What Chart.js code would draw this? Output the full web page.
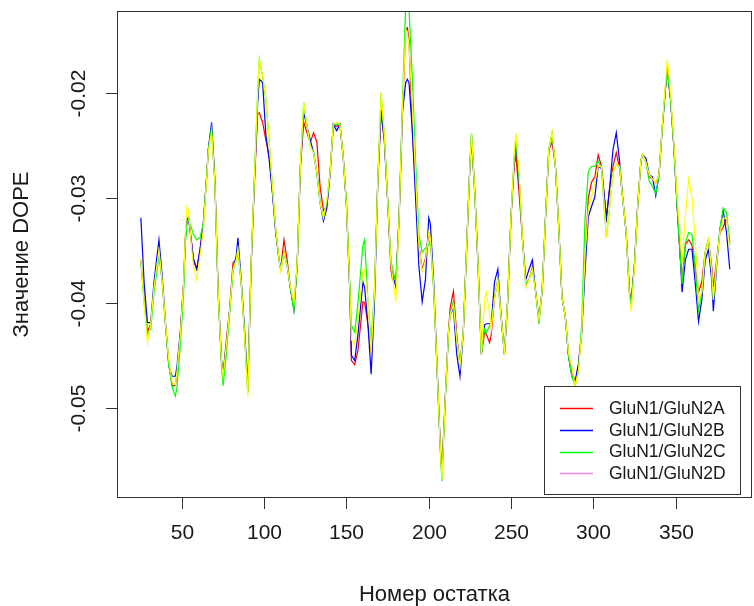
<!DOCTYPE html>
<html>
<head>
<meta charset="utf-8">
<script src="https://cdn.jsdelivr.net/npm/chart.js@4.4.1/dist/chart.umd.min.js"></script>
<style>
  html, body { margin: 0; padding: 0; background: #fff; }
  #wrap { width: 754px; height: 606px; position: relative; }
</style>
</head>
<body>
<div id="wrap"><canvas id="dopeChart" width="754" height="606"></canvas></div>
<script>
// residue numbers (x)
const residues = [25,27,29,31,33,36,38,40,42,44,46,47,49,51,52,53,54,56,57,59,61,63,65,66,68,70,72,74,75,77,79,81,83,84,86,88,90,92,94,96,97,99,101,103,105,107,109,110,112,114,116,118,120,122,124,126,128,130,132,134,136,138,140,142,144,146,148,150,152,153,155,157,160,161,163,165,167,169,171,173,175,177,178,180,182,184,186,187,188,190,192,194,196,198,200,201,203,205,207,208,210,212,213,215,217,219,221,223,225,226,228,230,232,234,235,237,238,240,242,244,246,248,250,252,253,255,257,259,261,263,265,267,269,271,273,275,277,279,281,283,285,287,289,291,293,295,297,299,301,303,305,308,310,312,314,316,318,320,322,323,325,327,329,330,332,334,336,338,340,342,344,345,347,349,351,353,354,356,358,360,362,364,366,368,370,372,373,375,377,379,381,383];

const dopeA = [-0.0360,-0.0395,-0.0428,-0.0420,-0.0385,-0.0352,-0.0380,-0.0420,-0.0458,-0.0479,-0.0479,-0.0465,-0.0428,-0.0381,-0.0340,-0.0321,-0.0319,-0.0345,-0.0360,-0.0368,-0.0349,-0.0324,-0.0280,-0.0254,-0.0233,-0.0285,-0.0390,-0.0455,-0.0468,-0.0435,-0.0406,-0.0362,-0.0359,-0.0349,-0.0381,-0.0428,-0.0485,-0.0365,-0.0286,-0.0220,-0.0219,-0.0228,-0.0245,-0.0260,-0.0295,-0.0333,-0.0359,-0.0368,-0.0340,-0.0360,-0.0387,-0.0406,-0.0365,-0.0270,-0.0228,-0.0238,-0.0247,-0.0238,-0.0247,-0.0290,-0.0312,-0.0308,-0.0276,-0.0230,-0.0232,-0.0230,-0.0261,-0.0308,-0.0387,-0.0455,-0.0459,-0.0445,-0.0399,-0.0400,-0.0420,-0.0448,-0.0390,-0.0286,-0.0219,-0.0245,-0.0302,-0.0368,-0.0378,-0.0380,-0.0318,-0.0219,-0.0140,-0.0138,-0.0150,-0.0235,-0.0290,-0.0345,-0.0368,-0.0358,-0.0333,-0.0338,-0.0385,-0.0460,-0.0535,-0.0560,-0.0492,-0.0428,-0.0405,-0.0389,-0.0430,-0.0459,-0.0428,-0.0349,-0.0270,-0.0245,-0.0295,-0.0365,-0.0449,-0.0428,-0.0430,-0.0438,-0.0430,-0.0395,-0.0378,-0.0413,-0.0449,-0.0397,-0.0318,-0.0268,-0.0260,-0.0297,-0.0340,-0.0383,-0.0378,-0.0366,-0.0390,-0.0416,-0.0387,-0.0318,-0.0254,-0.0247,-0.0270,-0.0327,-0.0395,-0.0413,-0.0451,-0.0465,-0.0475,-0.0460,-0.0428,-0.0360,-0.0300,-0.0285,-0.0280,-0.0259,-0.0270,-0.0319,-0.0290,-0.0270,-0.0257,-0.0272,-0.0302,-0.0333,-0.0390,-0.0400,-0.0365,-0.0308,-0.0264,-0.0259,-0.0266,-0.0280,-0.0282,-0.0286,-0.0278,-0.0232,-0.0194,-0.0178,-0.0206,-0.0251,-0.0308,-0.0359,-0.0380,-0.0345,-0.0340,-0.0345,-0.0366,-0.0390,-0.0380,-0.0352,-0.0340,-0.0365,-0.0385,-0.0359,-0.0333,-0.0328,-0.0319,-0.0342];

const dopeB = [-0.0319,-0.0381,-0.0419,-0.0419,-0.0380,-0.0340,-0.0375,-0.0420,-0.0460,-0.0470,-0.0470,-0.0460,-0.0428,-0.0381,-0.0340,-0.0321,-0.0319,-0.0345,-0.0358,-0.0368,-0.0349,-0.0324,-0.0280,-0.0254,-0.0228,-0.0283,-0.0390,-0.0455,-0.0468,-0.0440,-0.0406,-0.0368,-0.0355,-0.0338,-0.0378,-0.0425,-0.0480,-0.0365,-0.0286,-0.0210,-0.0187,-0.0190,-0.0240,-0.0264,-0.0295,-0.0333,-0.0359,-0.0368,-0.0352,-0.0365,-0.0387,-0.0406,-0.0365,-0.0270,-0.0219,-0.0232,-0.0245,-0.0257,-0.0276,-0.0305,-0.0322,-0.0310,-0.0278,-0.0230,-0.0236,-0.0230,-0.0261,-0.0308,-0.0387,-0.0450,-0.0455,-0.0430,-0.0380,-0.0385,-0.0420,-0.0468,-0.0400,-0.0286,-0.0216,-0.0245,-0.0302,-0.0362,-0.0372,-0.0385,-0.0318,-0.0219,-0.0190,-0.0187,-0.0190,-0.0235,-0.0300,-0.0365,-0.0399,-0.0378,-0.0319,-0.0325,-0.0380,-0.0460,-0.0537,-0.0565,-0.0492,-0.0428,-0.0412,-0.0405,-0.0449,-0.0470,-0.0428,-0.0349,-0.0270,-0.0240,-0.0295,-0.0365,-0.0449,-0.0421,-0.0420,-0.0420,-0.0420,-0.0380,-0.0368,-0.0413,-0.0449,-0.0397,-0.0318,-0.0264,-0.0248,-0.0285,-0.0340,-0.0378,-0.0368,-0.0359,-0.0390,-0.0416,-0.0387,-0.0318,-0.0254,-0.0240,-0.0270,-0.0327,-0.0395,-0.0413,-0.0451,-0.0470,-0.0475,-0.0458,-0.0428,-0.0370,-0.0318,-0.0308,-0.0299,-0.0270,-0.0272,-0.0319,-0.0290,-0.0254,-0.0238,-0.0265,-0.0302,-0.0333,-0.0390,-0.0400,-0.0365,-0.0308,-0.0264,-0.0259,-0.0262,-0.0278,-0.0280,-0.0298,-0.0278,-0.0232,-0.0194,-0.0178,-0.0206,-0.0251,-0.0308,-0.0359,-0.0390,-0.0359,-0.0349,-0.0349,-0.0381,-0.0418,-0.0397,-0.0360,-0.0349,-0.0378,-0.0408,-0.0365,-0.0330,-0.0312,-0.0333,-0.0368];

const dopeC = [-0.0362,-0.0400,-0.0430,-0.0425,-0.0390,-0.0355,-0.0380,-0.0422,-0.0460,-0.0480,-0.0489,-0.0480,-0.0440,-0.0390,-0.0345,-0.0325,-0.0320,-0.0330,-0.0335,-0.0340,-0.0338,-0.0324,-0.0280,-0.0254,-0.0233,-0.0285,-0.0392,-0.0460,-0.0479,-0.0448,-0.0410,-0.0370,-0.0359,-0.0349,-0.0381,-0.0428,-0.0486,-0.0365,-0.0282,-0.0200,-0.0168,-0.0184,-0.0206,-0.0247,-0.0290,-0.0330,-0.0359,-0.0368,-0.0352,-0.0365,-0.0387,-0.0408,-0.0365,-0.0268,-0.0209,-0.0232,-0.0251,-0.0257,-0.0276,-0.0305,-0.0319,-0.0305,-0.0276,-0.0230,-0.0230,-0.0230,-0.0261,-0.0305,-0.0380,-0.0422,-0.0428,-0.0400,-0.0345,-0.0340,-0.0397,-0.0438,-0.0390,-0.0286,-0.0200,-0.0240,-0.0300,-0.0360,-0.0368,-0.0381,-0.0318,-0.0210,-0.0115,-0.0110,-0.0120,-0.0185,-0.0265,-0.0335,-0.0352,-0.0348,-0.0345,-0.0340,-0.0388,-0.0460,-0.0540,-0.0570,-0.0495,-0.0430,-0.0412,-0.0398,-0.0435,-0.0459,-0.0428,-0.0349,-0.0270,-0.0238,-0.0295,-0.0365,-0.0449,-0.0425,-0.0428,-0.0422,-0.0420,-0.0395,-0.0378,-0.0413,-0.0449,-0.0397,-0.0318,-0.0260,-0.0242,-0.0283,-0.0340,-0.0382,-0.0378,-0.0368,-0.0390,-0.0420,-0.0387,-0.0318,-0.0254,-0.0238,-0.0270,-0.0327,-0.0395,-0.0413,-0.0451,-0.0470,-0.0479,-0.0465,-0.0420,-0.0320,-0.0275,-0.0270,-0.0270,-0.0265,-0.0272,-0.0338,-0.0308,-0.0276,-0.0268,-0.0270,-0.0302,-0.0333,-0.0390,-0.0402,-0.0365,-0.0308,-0.0264,-0.0259,-0.0266,-0.0284,-0.0289,-0.0296,-0.0278,-0.0232,-0.0194,-0.0178,-0.0206,-0.0251,-0.0308,-0.0359,-0.0382,-0.0343,-0.0333,-0.0335,-0.0366,-0.0408,-0.0390,-0.0352,-0.0340,-0.0370,-0.0397,-0.0362,-0.0330,-0.0310,-0.0314,-0.0345];

const dopeD = [-0.0358,-0.0400,-0.0438,-0.0420,-0.0385,-0.0350,-0.0380,-0.0420,-0.0455,-0.0475,-0.0478,-0.0465,-0.0430,-0.0380,-0.0335,-0.0309,-0.0313,-0.0350,-0.0365,-0.0378,-0.0355,-0.0330,-0.0282,-0.0256,-0.0238,-0.0285,-0.0390,-0.0455,-0.0470,-0.0440,-0.0406,-0.0368,-0.0359,-0.0349,-0.0381,-0.0430,-0.0490,-0.0362,-0.0282,-0.0200,-0.0168,-0.0184,-0.0206,-0.0247,-0.0290,-0.0330,-0.0359,-0.0370,-0.0352,-0.0365,-0.0385,-0.0400,-0.0362,-0.0268,-0.0209,-0.0232,-0.0251,-0.0257,-0.0276,-0.0305,-0.0319,-0.0302,-0.0276,-0.0230,-0.0228,-0.0230,-0.0261,-0.0308,-0.0385,-0.0435,-0.0440,-0.0415,-0.0370,-0.0368,-0.0397,-0.0448,-0.0390,-0.0286,-0.0200,-0.0240,-0.0302,-0.0362,-0.0375,-0.0399,-0.0318,-0.0215,-0.0140,-0.0142,-0.0155,-0.0210,-0.0280,-0.0345,-0.0370,-0.0360,-0.0333,-0.0338,-0.0385,-0.0460,-0.0537,-0.0568,-0.0492,-0.0428,-0.0412,-0.0402,-0.0435,-0.0460,-0.0428,-0.0349,-0.0270,-0.0238,-0.0295,-0.0365,-0.0449,-0.0397,-0.0390,-0.0410,-0.0425,-0.0395,-0.0378,-0.0413,-0.0449,-0.0397,-0.0318,-0.0258,-0.0238,-0.0278,-0.0340,-0.0386,-0.0378,-0.0368,-0.0390,-0.0416,-0.0387,-0.0318,-0.0254,-0.0238,-0.0270,-0.0327,-0.0395,-0.0413,-0.0448,-0.0462,-0.0479,-0.0465,-0.0428,-0.0355,-0.0310,-0.0299,-0.0285,-0.0270,-0.0270,-0.0338,-0.0308,-0.0276,-0.0268,-0.0270,-0.0302,-0.0333,-0.0395,-0.0408,-0.0368,-0.0308,-0.0264,-0.0259,-0.0266,-0.0278,-0.0282,-0.0286,-0.0278,-0.0230,-0.0188,-0.0168,-0.0200,-0.0248,-0.0300,-0.0340,-0.0362,-0.0318,-0.0282,-0.0300,-0.0340,-0.0397,-0.0390,-0.0352,-0.0340,-0.0370,-0.0397,-0.0362,-0.0333,-0.0320,-0.0319,-0.0350];

const seriesLabels = ['GluN1/GluN2A', 'GluN1/GluN2B', 'GluN1/GluN2C', 'GluN1/GluN2D'];
const xTicks = [50, 100, 150, 200, 250, 300, 350];
const yTicks = [-0.05, -0.04, -0.03, -0.02];
const yTickLabels = ['-0.05', '-0.04', '-0.03', '-0.02'];

const lineColors = ['#ff0000', '#0000ff', '#00ff00', '#ffff00'];
const legendColors = ['#ff0000', '#0000ff', '#00ff00', '#ee82ee'];
const FONT = '"Liberation Sans", Arial, Helvetica, sans-serif';

const toPoints = (arr) => arr.map((v, i) => ({ x: residues[i], y: v }));

// R-style axes, box and legend drawn on top of the chart area
const rStyle = {
  id: 'rStyle',
  afterDraw(chart) {
    const { ctx, chartArea: a, scales: { x, y } } = chart;
    ctx.save();
    ctx.strokeStyle = '#333';
    ctx.lineWidth = 1;
    ctx.strokeRect(a.left + 0.5, a.top + 0.5, a.right - a.left - 1, a.bottom - a.top - 1);

    ctx.fillStyle = '#1a1a1a';
    ctx.font = '21px ' + FONT;
    // x axis ticks
    ctx.textAlign = 'center';
    ctx.textBaseline = 'middle';
    xTicks.forEach(t => {
      const px = Math.round(x.getPixelForValue(t)) + 0.5;
      ctx.beginPath();
      ctx.moveTo(px, a.bottom);
      ctx.lineTo(px, a.bottom + 11);
      ctx.stroke();
      ctx.fillText(String(t), px, 533);
    });
    // y axis ticks (rotated labels)
    yTicks.forEach((t, i) => {
      const py = Math.round(y.getPixelForValue(t)) + 0.5;
      ctx.beginPath();
      ctx.moveTo(a.left, py);
      ctx.lineTo(a.left - 11, py);
      ctx.stroke();
      ctx.save();
      ctx.translate(79, py);
      ctx.rotate(-Math.PI / 2);
      ctx.fillText(yTickLabels[i], 0, 0);
      ctx.restore();
    });
    // axis titles
    ctx.font = '22px ' + FONT;
    ctx.fillText('Номер остатка', (a.left + a.right) / 2, 595);
    ctx.save();
    ctx.translate(22, (a.top + a.bottom) / 2);
    ctx.rotate(-Math.PI / 2);
    ctx.fillText('Значение DOPE', 0, 0);
    ctx.restore();

    // legend box
    const lx = 544, ly = 386, lw = 196, lh = 108;
    ctx.fillStyle = '#fff';
    ctx.fillRect(lx, ly, lw, lh);
    ctx.strokeStyle = '#333';
    ctx.strokeRect(lx + 0.5, ly + 0.5, lw, lh);
    ctx.font = '17.5px ' + FONT;
    ctx.textAlign = 'left';
    seriesLabels.forEach((lab, i) => {
      const ry = 408 + i * 21.8;
      ctx.strokeStyle = legendColors[i];
      ctx.lineWidth = 1.5;
      ctx.beginPath();
      ctx.moveTo(560, Math.round(ry) + 0.5);
      ctx.lineTo(593, Math.round(ry) + 0.5);
      ctx.stroke();
      ctx.fillStyle = '#1a1a1a';
      ctx.fillText(lab, 609, ry + 1);
    });
    ctx.restore();
  }
};

new Chart(document.getElementById('dopeChart'), {
  type: 'line',
  data: {
    datasets: [dopeA, dopeB, dopeC, dopeD].map((d, i) => ({
      label: seriesLabels[i],
      data: toPoints(d),
      borderColor: lineColors[i],
      borderWidth: 1.2,
      pointRadius: 0,
      tension: 0,
      fill: false,
      order: 3 - i
    }))
  },
  options: {
    responsive: false,
    animation: false,
    layout: { padding: { left: 117, right: 2, top: 11, bottom: 108 } },
    plugins: {
      legend: { display: false },
      title: { display: false },
      tooltip: { enabled: false }
    },
    scales: {
      x: { type: 'linear', min: 10.5, max: 396.5, display: false },
      y: { type: 'linear', min: -0.0586, max: -0.0122, display: false }
    }
  },
  plugins: [rStyle]
});
</script>
</body>
</html>
